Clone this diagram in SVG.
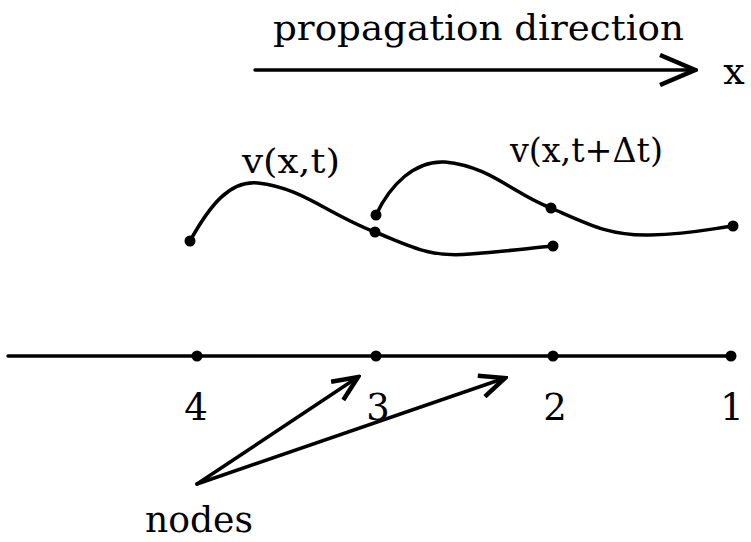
<svg xmlns="http://www.w3.org/2000/svg" width="751" height="542" viewBox="0 0 751 542">
<defs>
<style>
text{font-family:"DejaVu Serif","Liberation Serif",serif;fill:#000;}
.line{stroke:#000;stroke-width:3.5;fill:none;stroke-linecap:round;}
.dot{fill:#000;}
</style>
<marker id="big" viewBox="0 0 40 34" refX="37" refY="17" markerWidth="40" markerHeight="34" markerUnits="userSpaceOnUse" orient="auto">
<path d="M2,2 L37,17 L2,32" fill="none" stroke="#000" stroke-width="4.5"/>
</marker>
<marker id="head" viewBox="0 0 30 26" refX="27" refY="13" markerWidth="30" markerHeight="26" markerUnits="userSpaceOnUse" orient="auto">
<path d="M2,2 L27,13 L2,24" fill="none" stroke="#000" stroke-width="4.5"/>
</marker>
</defs>
<g id="title">
<text x="273" y="40" font-size="36" textLength="411" lengthAdjust="spacingAndGlyphs">propagation direction</text>
<text x="734" y="84" font-size="38" text-anchor="middle">x</text>
</g>
<g id="labels">
<text x="242" y="173" font-size="34" textLength="98" lengthAdjust="spacingAndGlyphs">v(x,t)</text>
<text x="510" y="162" font-size="34" textLength="153" lengthAdjust="spacingAndGlyphs">v(x,t+Δt)</text>
</g>
<g id="curve1">
<path class="line" d="M190,241 C210,205 230,180 258,183 C300,187 330,215 375,232 C410,246 430,258 470,254 C510,251 530,248 553,246"/>
<circle class="dot" cx="190" cy="241" r="5.5"/>
<circle class="dot" cx="375" cy="232" r="5.5"/>
<circle class="dot" cx="553" cy="246" r="5.5"/>
</g>
<g id="curve2">
<path class="line" d="M376,215 C390,185 415,160 445,162 C490,166 515,195 551,208 C590,225 610,236 650,235 C690,234 710,229 733,226"/>
<circle class="dot" cx="376" cy="215" r="5.5"/>
<circle class="dot" cx="551" cy="208" r="5.5"/>
<circle class="dot" cx="733" cy="226" r="5.5"/>
</g>
<g id="axis">
<line class="line" x1="8" y1="356" x2="731" y2="356"/>
<circle class="dot" cx="197" cy="356" r="5.5"/>
<circle class="dot" cx="376" cy="356" r="5.5"/>
<circle class="dot" cx="553" cy="356" r="5.5"/>
<circle class="dot" cx="731" cy="356" r="5.5"/>
</g>
<g id="node-labels">
<text x="196" y="420" font-size="37" text-anchor="middle">4</text>
<text x="378" y="420" font-size="37" text-anchor="middle">3</text>
<text x="555" y="420" font-size="37" text-anchor="middle">2</text>
<text x="732" y="420" font-size="37" text-anchor="middle">1</text>
<text x="145" y="532" font-size="35" textLength="108" lengthAdjust="spacingAndGlyphs">nodes</text>
</g>
<g id="connectors">
<line class="line" x1="255" y1="70" x2="695" y2="70" marker-end="url(#big)"/>
<line class="line" x1="197" y1="484" x2="358" y2="377" marker-end="url(#head)" stroke-width="4.5"/>
<line class="line" x1="197" y1="484" x2="505" y2="378" marker-end="url(#head)" stroke-width="4.5"/>
</g>
</svg>
